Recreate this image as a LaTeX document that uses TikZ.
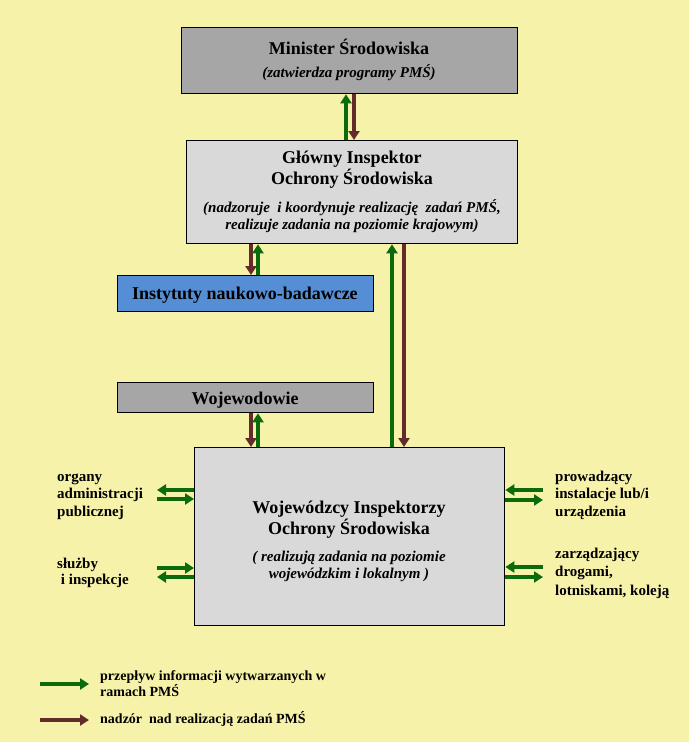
\documentclass[tikz,border=0pt]{standalone}
\usepackage{fontspec}
\setmainfont{Liberation Serif}
\usetikzlibrary{arrows.meta}
\definecolor{bgc}{HTML}{F7F2AA}
\definecolor{dgray}{HTML}{A6A6A6}
\definecolor{lgray}{HTML}{D9D9D9}
\definecolor{bluebox}{HTML}{558ED5}
\definecolor{garrow}{HTML}{0B6A0B}
\definecolor{barrow}{HTML}{652B2B}
\begin{document}
\begin{tikzpicture}[x=1pt,y=-1pt,
  box/.style={draw=black, line width=1.3pt, inner sep=0pt, anchor=north west},
  ga/.style={draw=garrow, line width=3.2pt, -{Triangle[length=9pt,width=11pt]}},
  ba/.style={draw=barrow, line width=3.2pt, -{Triangle[length=9pt,width=11pt]}},
  ttl/.style={font=\fontsize{18}{21}\selectfont\bfseries, align=center, inner sep=0pt, anchor=base},
  itl/.style={font=\fontsize{15}{16.5}\selectfont\bfseries\itshape, align=center, inner sep=0pt, anchor=base},
  lbl/.style={font=\fontsize{15}{17.5}\selectfont\bfseries, align=left, inner sep=0pt, anchor=base west},
  leg/.style={font=\fontsize{14}{16}\selectfont\bfseries, align=left, inner sep=0pt, anchor=base west}]
\fill[bgc] (0,0) rectangle (689,742);
\useasboundingbox (0,0) rectangle (689,742);

% boxes
\node[box, fill=dgray, minimum width=336pt, minimum height=66pt] (min) at (181,27) {};
\node[box, fill=lgray, minimum width=331pt, minimum height=103pt] (gl) at (186,140) {};
\node[box, fill=bluebox, minimum width=256pt, minimum height=36pt] (inst) at (117,275) {};
\node[box, fill=dgray, minimum width=256pt, minimum height=30pt] (wojew) at (117,382) {};
\node[box, fill=lgray, minimum width=310pt, minimum height=178pt] (wi) at (194,447) {};

% texts (multi-line nodes are anchored at the baseline of their last line)
\node[ttl] (minT) at (349,54) {Minister Środowiska};
\node[itl] (minI) at (349,77) {(zatwierdza programy PMŚ)};
\node[ttl] (glT) at (352,184) {Główny Inspektor\\Ochrony Środowiska};
\node[itl] (glI) at (352,229) {(nadzoruje\ \ i koordynuje realizację\ \ zadań PMŚ,\\realizuje zadania na poziomie krajowym)};
\node[ttl] (instT) at (245,299) {Instytuty naukowo-badawcze};
\node[ttl] (wojewT) at (245,404) {Wojewodowie};
\node[ttl] (wiT) at (349,534) {Wojewódzcy Inspektorzy\\Ochrony Środowiska};
\node[itl] (wiI) at (349,578) {( realizują zadania na poziomie\\wojewódzkim i lokalnym )};

\node[lbl] (orgT) at (57,516) {organy\\administracji\\publicznej};
\node[lbl] (slT) at (57,584) {służby\\[-1.5pt]\ i inspekcje};
\node[lbl] (prT) at (555,516) {prowadzący\\instalacje lub/i\\urządzenia};
\node[lbl] (zaT) at (555,595) {zarządzający\\[1pt]drogami,\\[1pt]lotniskami, koleją};

% x positions of vertical connectors
\coordinate (x346) at (346,0);
\coordinate (x354) at (354,0);
\coordinate (x251) at (251,0);
\coordinate (x258) at (258,0);
\coordinate (x392) at (392,0);
\coordinate (x404) at (404,0);

\draw[ga] (gl.north -| x346) -- (min.south -| x346);
\draw[ba] (min.south -| x354) -- (gl.north -| x354);
\draw[ba] (gl.south -| x251) -- (inst.north -| x251);
\draw[ga] (inst.north -| x258) -- (gl.south -| x258);
\draw[ga] (wi.north -| x392) -- (gl.south -| x392);
\draw[ba] (gl.south -| x404) -- (wi.north -| x404);
\draw[ba] (wojew.south -| x251) -- (wi.north -| x251);
\draw[ga] (wi.north -| x258) -- (wojew.south -| x258);

% side connectors
\coordinate (L1) at (157,490);
\coordinate (L2) at (157,499);
\coordinate (L3) at (157,568);
\coordinate (L4) at (157,577);
\coordinate (R1) at (543,490);
\coordinate (R2) at (543,500);
\coordinate (R3) at (543,567);
\coordinate (R4) at (543,577);

\draw[ga] (wi.west |- L1) -- (L1);
\draw[ga] (L2) -- (wi.west |- L2);
\draw[ga] (L3) -- (wi.west |- L3);
\draw[ga] (wi.west |- L4) -- (L4);
\draw[ga] (R1) -- (wi.east |- R1);
\draw[ga] (wi.east |- R2) -- (R2);
\draw[ga] (R3) -- (wi.east |- R3);
\draw[ga] (wi.east |- R4) -- (R4);

% legend
\coordinate (lg1a) at (40,684);
\coordinate (lg1b) at (89,684);
\coordinate (lg2a) at (40,720);
\coordinate (lg2b) at (89,720);
\draw[ga] (lg1a) -- (lg1b);
\draw[ba] (lg2a) -- (lg2b);
\node[leg] (legT1) at (100,696) {przepływ informacji wytwarzanych w\\ramach PMŚ};
\node[leg] (legT2) at (100,723) {nadzór\ \ nad realizacją zadań PMŚ};
\end{tikzpicture}
\end{document}
